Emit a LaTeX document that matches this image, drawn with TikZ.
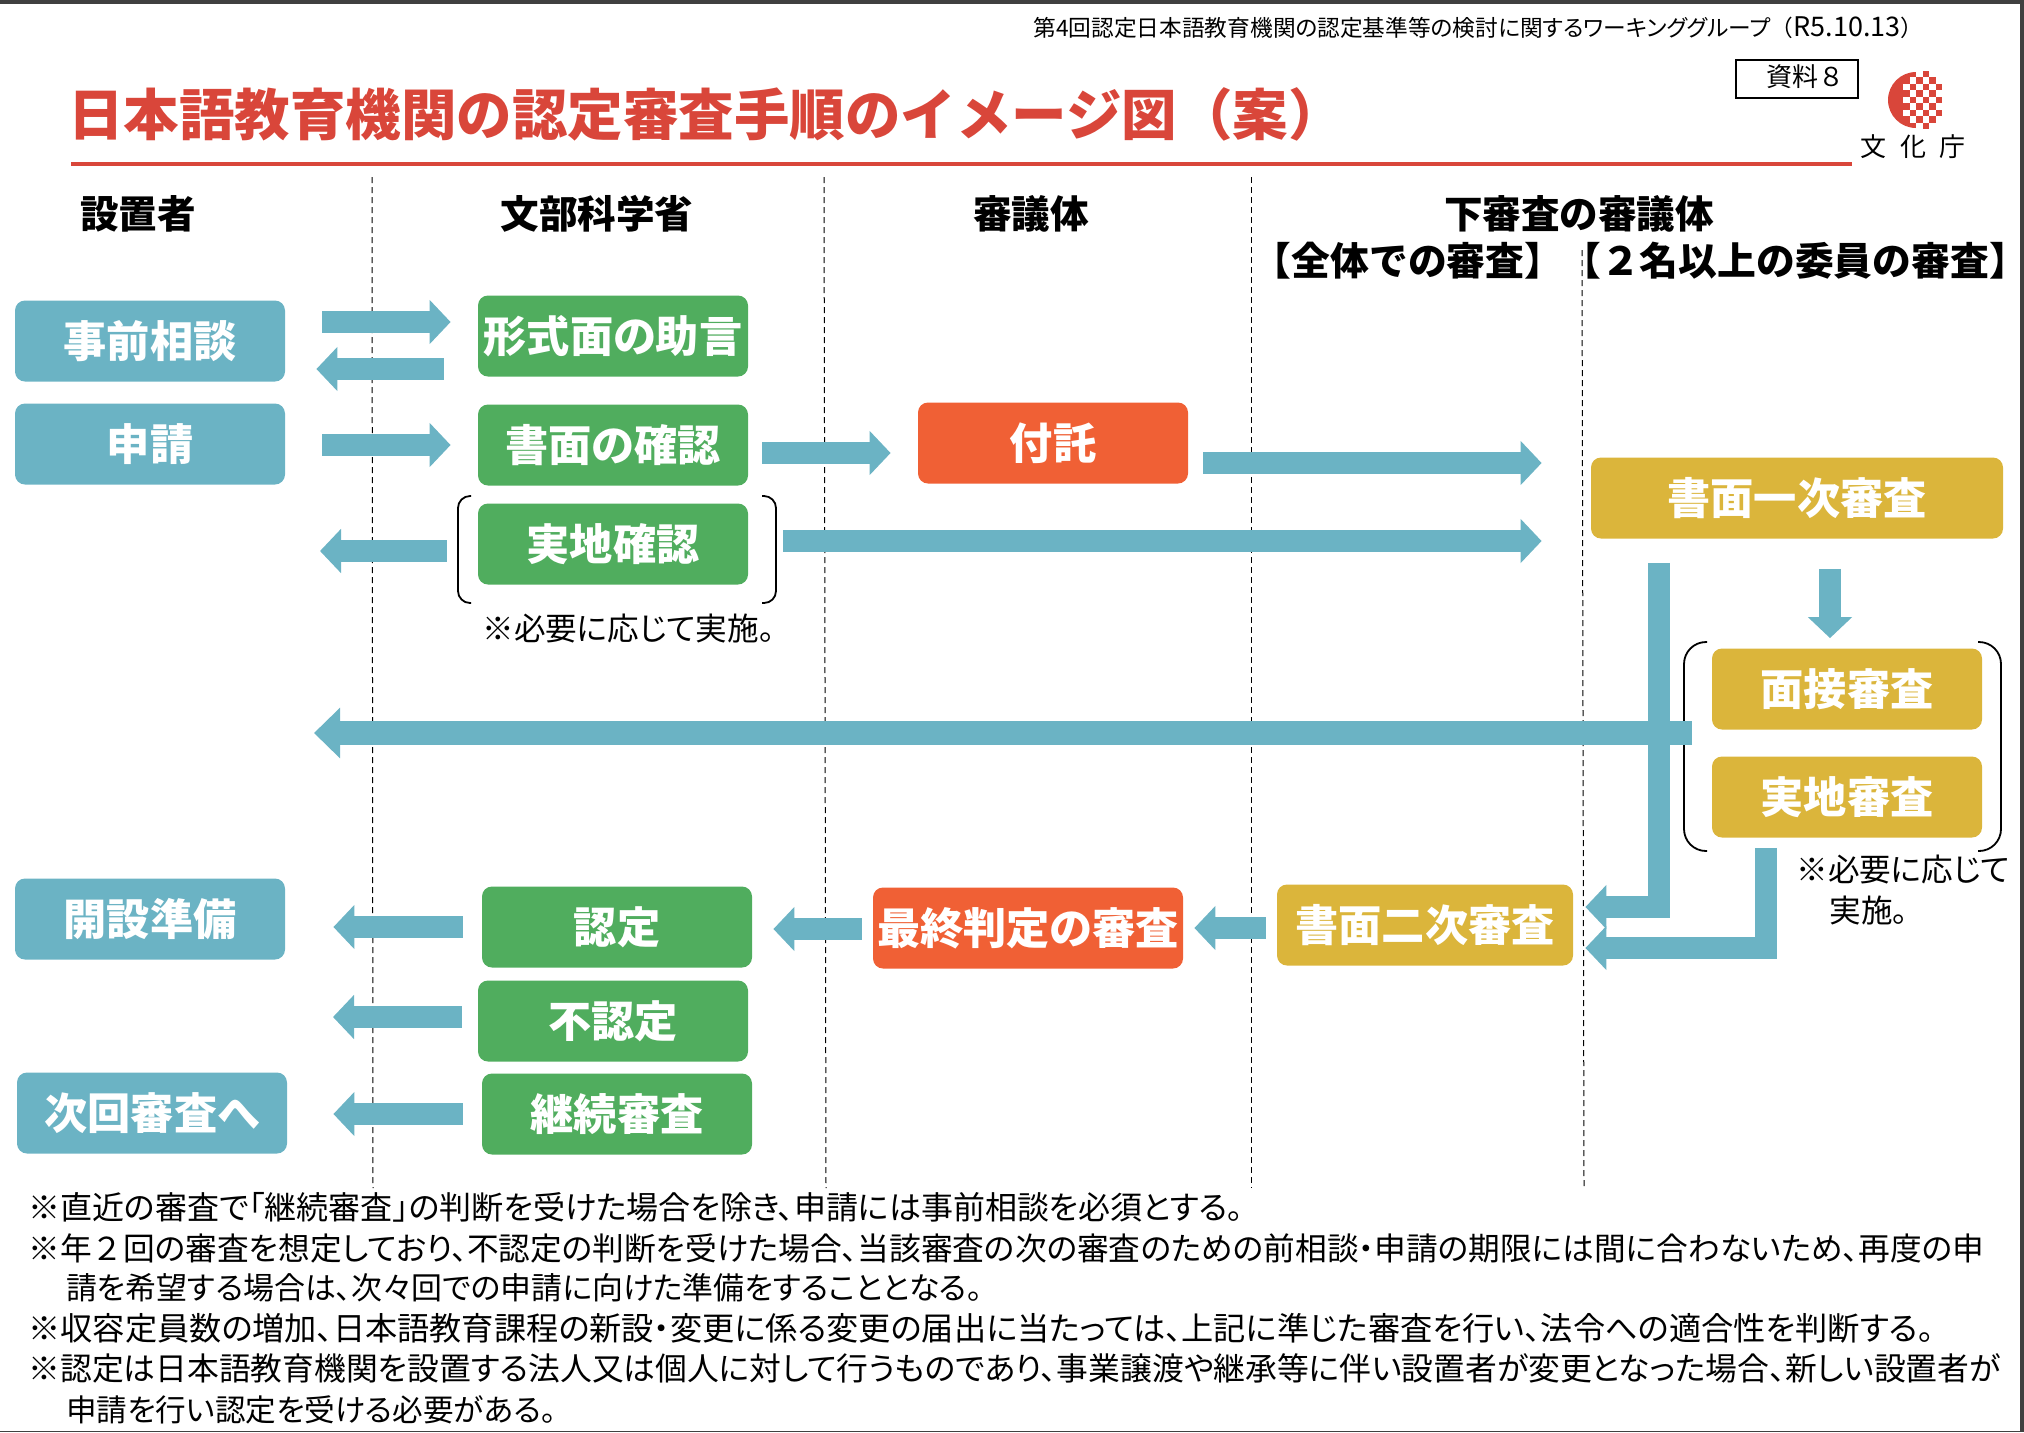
\documentclass[tikz,border=0pt]{standalone}
\usepackage{fontspec}
\usepackage{tikz}
\usetikzlibrary{arrows.meta}
\setmainfont{Noto Sans CJK JP}[RawFeature=+palt]
\newfontfamily\plainfont{Noto Sans CJK JP}
\definecolor{tealc}{HTML}{6BB3C4}
\definecolor{greenc}{HTML}{50AD5E}
\definecolor{orangec}{HTML}{F06035}
\definecolor{yellowc}{HTML}{DBB53B}
\definecolor{redc}{HTML}{D9463A}
\definecolor{framec}{HTML}{404040}
\tikzset{
  stepbox/.style={rounded corners=5pt,minimum width=135pt,minimum height=40.5pt,inner sep=0pt,
    text=white,font=\fontsize{21.6}{24}\selectfont\bfseries},
  tealbox/.style={stepbox,fill=tealc},
  greenbox/.style={stepbox,fill=greenc},
  orangebox/.style={stepbox,fill=orangec},
  yellowbox/.style={stepbox,fill=yellowc},
  flow/.style={draw=tealc,line width=11pt,-{Triangle[width=21.5pt,length=10.5pt]},line join=miter},
  divider/.style={dashed,line width=0.5pt,dash pattern=on 3pt off 2pt},
  brk/.style={line width=0.9pt,rounded corners=6pt},
  headtext/.style={inner sep=0pt,font=\fontsize{19.3}{22}\selectfont\bfseries},
  foot/.style={anchor=west,inner sep=0pt,font=\fontsize{#1}{18}\selectfont},
  note/.style={anchor=west,inner sep=0pt,font=\fontsize{15.8}{18}\selectfont},
}
\begin{document}
\begin{tikzpicture}[x=0.5pt,y=-0.5pt]
    \useasboundingbox (0,0) rectangle (2024,1432);
    % frame of the screenshot
    \fill[framec] (0,0) rectangle (2024,4);
    \fill[framec] (2020,0) rectangle (2024,1432);
    \fill[framec] (0,1431) rectangle (2024,1432);

    % title
    \node[anchor=west,inner sep=0pt,text=redc,font=\fontsize{27.75}{32}\selectfont\bfseries\plainfont] (title) at (68,114) {日本語教育機関の認定審査手順のイメージ図（案）};
    \draw[redc,line width=2.3pt] (71,164) -- (1852,164);
    \node[anchor=west,inner sep=0pt,font=\fontsize{11.35}{14}\selectfont] (meeting) at (1033,28) {第4回認定日本語教育機関の認定基準等の検討に関するワーキンググループ{\plainfont （}{\fontsize{13.5}{14}\selectfont R5.10.13}{\plainfont ）}};
    \draw[line width=0.8pt] (1736,60) rectangle (1858,98);
    \node[inner sep=0pt,font=\fontsize{13}{16}\selectfont\plainfont] (shiryo) at (1805,77) {資料８};

    % logo
    \begin{scope}
        \clip (1880,60) rectangle (1923,140);
        \fill[redc] (1916,100) circle (28);
    \end{scope}
    \foreach \c/\h in {0/2,1/3,2/4,3/4,4/3,5/2}{
        \foreach \r in {-4,...,4}{
            \pgfmathtruncatemacro{\inside}{abs(\r)<=\h}
            \ifnum\inside=1
                \pgfmathtruncatemacro{\odd}{mod(\c+\r+10,2)}
                \ifnum\odd=1
                    \fill[redc] (1903+\c*6.5,100+\r*6.5-3.25) rectangle ++(6.5,6.5);
                \else
                    \fill[white] (1903+\c*6.5,100+\r*6.5-3.25) rectangle ++(6.5,6.5);
                \fi
            \fi
        }
    }
    \node[inner sep=0pt,font=\fontsize{13}{14}\selectfont] (logotext) at (1913,147) {文\hspace{7pt}化\hspace{7pt}庁};

    % column heads
    \node[headtext] (setchi) at (138,214) {設置者};
    \node[headtext] (monbu) at (597,214) {文部科学省};
    \node[headtext] (shingi) at (1031,214) {審議体};
    \node[headtext] (shita) at (1579,214) {下審査の審議体};
    \node[headtext,font=\fontsize{19.4}{22}\selectfont\bfseries\plainfont] (zentai) at (1408,261) {【全体での審査】};
    \node[headtext,font=\fontsize{19.4}{22}\selectfont\bfseries\plainfont] (nimei) at (1795,261) {【２名以上の委員の審査】};

    % dividers
    \draw[divider] (372,177) -- (373,1188);
    \draw[divider] (824,177) -- (826,1188);
    \draw[divider] (1251,177) -- (1251,1188);
    \draw[divider] (1582,250) -- (1584,1188);

    % boxes
    \node[tealbox] (sodan) at (150,341) {事前相談};
    \node[tealbox] (shinsei) at (150,444) {申請};
    \node[tealbox] (kaisetsu) at (150,919) {開設準備};
    \node[tealbox] (jikai) at (152,1113) {次回審査へ};
    \node[greenbox] (keishiki) at (613,336) {形式面の助言};
    \node[greenbox] (shomen) at (613,445) {書面の確認};
    \node[greenbox] (jicchi) at (613,544) {実地確認};
    \node[greenbox] (nintei) at (617,927) {認定};
    \node[greenbox] (funintei) at (613,1021) {不認定};
    \node[greenbox] (keizoku) at (617,1114) {継続審査};
    \node[orangebox] (takaku) at (1053,443) {付託};
    \node[orangebox,minimum width=155pt] (saishu) at (1028,928) {最終判定の審査};
    \node[yellowbox,minimum width=206pt] (ichiji) at (1797,498) {書面一次審査};
    \node[yellowbox] (mensetsu) at (1847,689) {面接審査};
    \node[yellowbox] (jicchishinsa) at (1847,797) {実地審査};
    \node[yellowbox,minimum width=148pt] (niji) at (1425,925) {書面二次審査};

    % brackets
    \draw[brk] (471,496) -- (458,496) -- (458,603) -- (471,603);
    \draw[brk] (762,496) -- (776,496) -- (776,603) -- (762,603);
    \draw[brk,rounded corners=11pt] (1707,642) -- (1684,642) -- (1684,851) -- (1707,851);
    \draw[brk,rounded corners=11pt] (1978,642) -- (2001,642) -- (2001,851) -- (1978,851);

    % free ends
    \coordinate (jicchiback) at (320,551);
    \coordinate (longback) at (314,733);
    \coordinate (funinteiback) at (333,1017);

    % connectors
    \draw[flow] ([shift={(37,-19)}]sodan.east) -- ([shift={(-27,-14)}]keishiki.west);
    \draw[flow] ([shift={(-34,33)}]keishiki.west) -- ([shift={(31,28)}]sodan.east);
    \draw[flow] ([shift={(37,1)}]shinsei.east) -- ([shift={(-27,0)}]shomen.west);
    \draw[flow] ([shift={(-31,7)}]jicchi.west) -- (jicchiback);
    \draw[flow] ([shift={(14,8)}]shomen.east) -- ([shift={(-27,10)}]takaku.west);
    \draw[flow] ([shift={(15,20)}]takaku.east) -- ([shift={(-49,-35)}]ichiji.west);
    \draw[flow] ([shift={(35,-3)}]jicchi.east) -- ([shift={(-49,43)}]ichiji.west);
    \draw[flow] ([shift={(33,30)}]ichiji.south) -- ([shift={(-17,-10)}]mensetsu.north);
    \draw[flow] ([shift={(-138,24)}]ichiji.south) |- ([shift={(12,-18)}]niji.east);
    \draw[flow] ([shift={(-81,10)}]jicchishinsa.south) |- ([shift={(12,23)}]niji.east);
    \draw[flow,line width=12pt,-{Triangle[width=24.5pt,length=13pt]}] ([shift={(-20,44)}]mensetsu.west) -- (longback);
    \draw[flow] ([shift={(-11,3)}]niji.west) -- ([shift={(11,0)}]saishu.east);
    \draw[flow] ([shift={(-11,1)}]saishu.west) -- ([shift={(21,2)}]nintei.east);
    \draw[flow] ([shift={(-19,0)}]nintei.west) -- ([shift={(48,8)}]kaisetsu.east);
    \draw[flow] ([shift={(-16,-4)}]funintei.west) -- (funinteiback);
    \draw[flow] ([shift={(-19,0)}]keizoku.west) -- ([shift={(46,1)}]jikai.east);

    % notes
    \node[note] (note1) at (482,628) {※必要に応じて実施。};
    \node[note] (note2) at (1796,870) {※必要に応じて};
    \node[note] (note3) at (1829,910) {実施。};

    % footer
    \node[foot=16] (f1) at (28,1207) {※直近の審査で「継続審査」の判断を受けた場合を除き、申請には事前相談を必須とする。};
    \node[foot=15.85] (f2) at (28,1248) {※年{\plainfont ２}回の審査を想定しており、不認定の判断を受けた場合、当該審査の次の審査のための前相談・申請の期限には間に合わないため、再度の申};
    \node[foot=15.45] (f3) at (66,1288) {請を希望する場合は、次々回での申請に向けた準備をすることとなる。};
    \node[foot=16.1] (f4) at (28,1328) {※収容定員数の増加、日本語教育課程の新設・変更に係る変更の届出に当たっては、上記に準じた審査を行い、法令への適合性を判断する。};
    \node[foot=15.9] (f5) at (28,1368) {※認定は日本語教育機関を設置する法人又は個人に対して行うものであり、事業譲渡や継承等に伴い設置者が変更となった場合、新しい設置者が};
    \node[foot=15.3] (f6) at (66,1410) {申請を行い認定を受ける必要がある。};
\end{tikzpicture}
\end{document}
